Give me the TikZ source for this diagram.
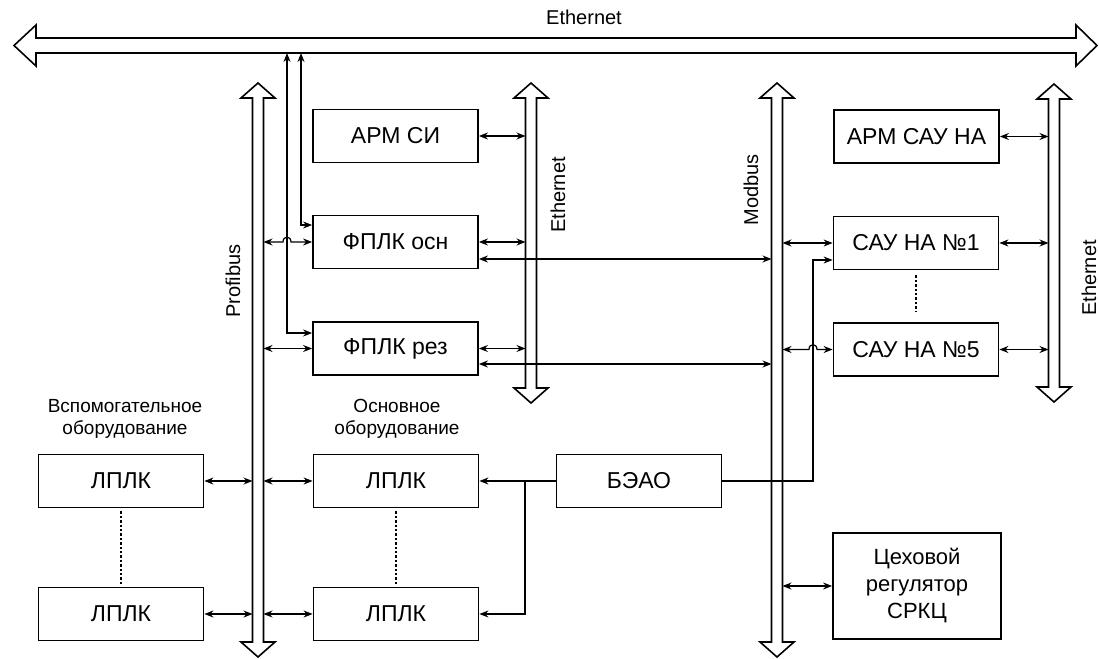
\documentclass[tikz,border=0pt]{standalone}
\usepackage{fontspec}
\setmainfont{Liberation Sans}
\usetikzlibrary{arrows.meta}

% vertical bus: x, top tip, bottom tip
\newcommand{\vbus}[3]{%
  \draw[bus] (#1-5.5,#2+15) -- (#1-17,#2+15) -- (#1,#2) -- (#1+17,#2+15)
    -- (#1+5.5,#2+15) -- (#1+5.5,#3-15) -- (#1+17,#3-15) -- (#1,#3)
    -- (#1-17,#3-15) -- (#1-5.5,#3-15) -- cycle;}

\begin{document}
\begin{tikzpicture}[
  x=0.5pt, y=-0.5pt,
  bus/.style={line width=0.8pt},
  block/.style={draw, line width=0.9pt, minimum width=82.5pt,
    minimum height=26.5pt, inner sep=1pt, font=\fontsize{11.5}{13}\selectfont},
  link/.style={line width=0.6pt,
    {Stealth[length=4.5pt,width=3.5pt]}-{Stealth[length=4.5pt,width=3.5pt]}},
  feed/.style={line width=0.6pt, -{Stealth[length=4.5pt,width=3.5pt]}},
  dots/.style={line width=0.8pt, dash pattern=on 1.2pt off 1pt},
  buslabel/.style={font=\fontsize{10}{12}\selectfont},
  note/.style={font=\fontsize{9.5}{11}\selectfont, align=center}
]
  \useasboundingbox (0,0) rectangle (1099,659);

  % Шина Ethernet сверху
  \draw[bus] (36,38) -- (36,25) -- (14,45.5) -- (36,66) -- (36,53)
    -- (1076,53) -- (1076,66) -- (1097,45.5) -- (1076,25) -- (1076,38) -- cycle;
  \node[buslabel] (ethtop) at (584,17) {Ethernet};

  % Вертикальные шины
  \vbus{258}{83}{657}
  \vbus{531}{83}{403}
  \vbus{777}{83}{657}
  \vbus{1054}{84}{402}

  \node[buslabel, rotate=90] (pblabel) at (233,281) {Profibus};
  \node[buslabel, rotate=90] (emlabel) at (558,195) {Ethernet};
  \node[buslabel, rotate=90] (mblabel) at (751,190) {Modbus};
  \node[buslabel, rotate=90] (erlabel) at (1089,278) {Ethernet};

  \coordinate (ethB) at (0,53);
  \coordinate (pbL) at (252.5,0);
  \coordinate (pbR) at (263.5,0);
  \coordinate (emL) at (525.5,0);
  \coordinate (mbL) at (771.5,0);
  \coordinate (mbR) at (782.5,0);
  \coordinate (erL) at (1048.5,0);
  \coordinate (tapA) at (287,0);
  \coordinate (tapB) at (301,0);
  \coordinate (tapC) at (813,0);
  \coordinate (tapD) at (525,0);

  % Блоки
  \node[block] (armsi)  at (395.5,136)   {АРМ СИ};
  \node[block] (fosn)   at (395.5,242)   {ФПЛК осн};
  \node[block] (frez)   at (395.5,348.5) {ФПЛК рез};
  \node[block] (armsau) at (916.5,136.5) {АРМ САУ НА};
  \node[block] (sau1)   at (916,243)     {САУ НА №1};
  \node[block] (sau5)   at (916,349.5)   {САУ НА №5};
  \node[block] (lplk1)  at (121,481)     {ЛПЛК};
  \node[block] (lplk2)  at (121,614)     {ЛПЛК};
  \node[block] (lplk3)  at (396,481)     {ЛПЛК};
  \node[block] (lplk4)  at (396,614)     {ЛПЛК};
  \node[block] (beao)   at (639,481)     {БЭАО};
  \node[block, minimum width=84pt, minimum height=53pt, align=center,
    font=\fontsize{11}{13.5}\selectfont] (ceh) at (917,586)
    {Цеховой\\регулятор\\СРКЦ};

  \node[note] (aux)  at (125,419) {Вспомогательное\\оборудование};
  \node[note] (main) at (397,419) {Основное\\оборудование};

  % Ethernet
  \draw[link] (armsi.east) -- (armsi.east -| emL);
  \draw[link] (fosn.east) -- (fosn.east -| emL);
  \draw[link] (frez.east) -- (frez.east -| emL);
  \draw[link] (armsau.east) -- (armsau.east -| erL);
  \draw[link] (sau1.east) -- (sau1.east -| erL);
  \draw[link] (sau5.east) -- (sau5.east -| erL);

  \coordinate (fosnT) at ([yshift=8.5pt]fosn.west);
  \coordinate (frezT) at ([yshift=7.75pt]frez.west);
  \draw[link] (tapB |- ethB) |- (fosnT);
  \draw[link] (tapA |- ethB) |- (frezT);

  % Modbus
  \coordinate (fosnM) at ([yshift=-8.5pt]fosn.east);
  \coordinate (frezM) at ([yshift=-7.75pt]frez.east);
  \draw[link] (fosnM) -- (fosnM -| mbL);
  \draw[link] (frezM) -- (frezM -| mbL);
  \draw[link] (sau1.west -| mbR) -- (sau1.west);
  \draw[link] (sau5.west -| mbR) -- (809,349.5)
    .. controls (809,343) and (817,343) .. (817,349.5) -- (sau5.west);
  \draw[link] (ceh.west -| mbR) -- (ceh.west);

  \coordinate (sau1B) at ([yshift=-8.5pt]sau1.west);
  \draw[feed] (beao.east) -| (tapC |- sau1B) -- (sau1B);

  % Profibus
  \draw[link] (fosn.west -| pbR) -- (283,242)
    .. controls (283,235.5) and (291,235.5) .. (291,242) -- (fosn.west);
  \draw[link] (frez.west -| pbR) -- (frez.west);
  \draw[link] (lplk1.east) -- (lplk1.east -| pbL);
  \draw[link] (lplk2.east) -- (lplk2.east -| pbL);
  \draw[link] (lplk3.west -| pbR) -- (lplk3.west);
  \draw[link] (lplk4.west -| pbR) -- (lplk4.west);

  % БЭАО -- ЛПЛК
  \draw[feed] (beao.west) -- (lplk3.east);
  \draw[feed] (tapD |- beao.west) |- (lplk4.east);

  % Многоточия
  \draw[dots, shorten <=1.5pt, shorten >=1.5pt] (lplk1) -- (lplk2);
  \draw[dots, shorten <=1.5pt, shorten >=1.5pt] (lplk3) -- (lplk4);
  \draw[dots, shorten <=2.5pt, shorten >=5pt] (sau1) -- (sau5);
\end{tikzpicture}
\end{document}
